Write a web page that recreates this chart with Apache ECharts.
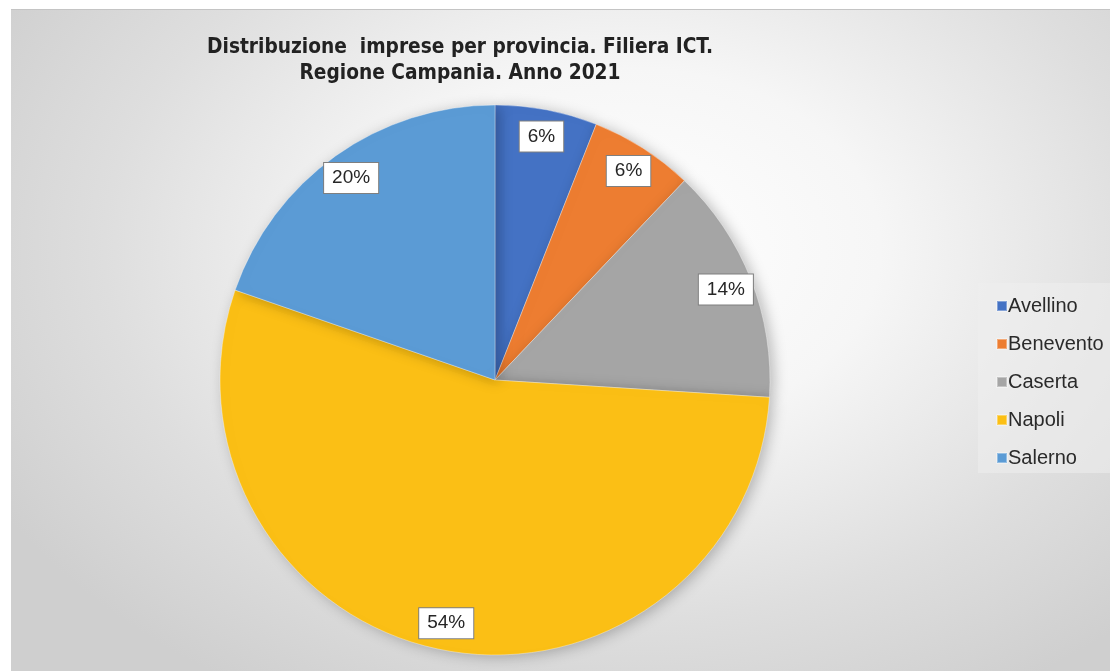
<!DOCTYPE html>
<html>
<head>
<meta charset="utf-8">
<script src="https://cdn.jsdelivr.net/npm/echarts@6/dist/echarts.min.js"></script>
<style>
html,body{margin:0;padding:0;background:#fff;}
#bg{position:absolute;left:11px;top:9px;width:1099px;height:662px;border-top:1px solid #c4c4c4;
background:radial-gradient(ellipse 66% 78% at 56% 36%, #ffffff 0%, #f6f6f6 35%, #dedede 72%, #cfcfcf 100%);}
#legbox{position:absolute;left:978px;top:283px;width:132px;height:190px;background:rgba(238,238,238,0.55);}
#chart{position:absolute;left:0;top:0;width:1110px;height:671px;}
</style>
</head>
<body>
<div id="bg"></div>
<div id="legbox"></div>
<div id="chart"></div>
<script>
const titleLines = ['Distribuzione  imprese per provincia. Filiera ICT.', 'Regione Campania. Anno 2021'];
const categories = ['Avellino', 'Benevento', 'Caserta', 'Napoli', 'Salerno'];
const values = [6.0, 6.1, 13.9, 54.3, 19.7];
const labels = ['6%', '6%', '14%', '54%', '20%'];
const colors = ['#4472C4', '#ED7D31', '#A5A5A5', '#FBBF15', '#5B9BD5'];

const chart = echarts.init(document.getElementById('chart'));
const mainData = categories.map((c, i) => ({name: c, value: values[i], itemStyle: {color: colors[i]}}));
const labelData = categories.map((c, i) => ({name: c, value: values[i], label: {formatter: labels[i]}}));

chart.setOption({
  backgroundColor: 'transparent',
  animation: false,
  title: {
    text: titleLines.join('\n'),
    left: 455, top: 30, textAlign: 'center',
    textStyle: {fontFamily: '"Liberation Sans Narrow", "DejaVu Sans Condensed", "Liberation Sans", sans-serif',
      fontWeight: 'bold', fontSize: 20.7, lineHeight: 26, color: '#222'}
  },
  legend: {
    orient: 'vertical', left: 991, top: 291, itemGap: 18,
    itemWidth: 10, itemHeight: 10, icon: 'rect', selectedMode: false,
    data: categories.map((c, i) => ({name: c, itemStyle: {color: colors[i]}})),
    textStyle: {fontFamily: '"Liberation Sans", Arial, sans-serif', fontSize: 20, color: '#2a2a2a', padding: [0, 0, 0, -4]}
  },
  series: [
    {
      type: 'pie', center: [495, 380], radius: [0, 275], startAngle: 90, clockwise: true,
      label: {show: false}, labelLine: {show: false},
      itemStyle: {borderColor: 'rgba(255,255,255,0.35)', borderWidth: 1,
        shadowBlur: 14, shadowColor: 'rgba(0,0,0,0.25)', shadowOffsetX: 4, shadowOffsetY: 2},
      emphasis: {disabled: true},
      data: mainData
    },
    {
      type: 'pie', center: [495, 380], radius: [215, 275], startAngle: 90, clockwise: true, silent: true,
      itemStyle: {color: 'rgba(0,0,0,0)'},
      labelLine: {show: false},
      label: {show: true, position: 'inside', fontFamily: '"Liberation Sans", Arial, sans-serif', fontSize: 19,
        color: '#262626', backgroundColor: '#fff', borderColor: '#7f7f7f', borderWidth: 1, padding: [6, 8, 5, 8]},
      emphasis: {disabled: true},
      data: labelData
    }
  ]
});
</script>
</body>
</html>
